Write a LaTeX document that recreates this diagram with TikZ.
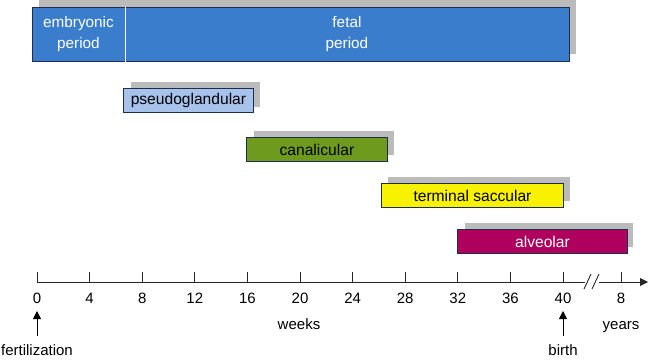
\documentclass[tikz,border=0pt]{standalone}
\usepackage{fontspec}
\setmainfont{Liberation Sans}
\usetikzlibrary{arrows.meta}
\definecolor{topblue}{HTML}{3A7DCC}
\definecolor{edgec}{HTML}{1E2E4A}
\definecolor{shadec}{HTML}{BBBBBB}
\definecolor{pglc}{HTML}{A7C3EC}
\definecolor{canc}{HTML}{6E9A1E}
\definecolor{tscc}{HTML}{F8F200}
\definecolor{alvc}{HTML}{B0005E}
\begin{document}
\begin{tikzpicture}[x=1pt,y=-1pt,
  font=\fontsize{15}{17}\selectfont,
  shadowbox/.style={fill=shadec,draw=none},
  phasebox/.style={draw=edgec,line width=0.9pt,inner sep=0pt,anchor=north west,font=\fontsize{15.6}{17}\selectfont},
  ticklab/.style={anchor=base,inner sep=0pt},
  axisline/.style={line width=0.9pt,black!85},
  arr/.style={line width=0.9pt,-{Triangle[length=8pt,width=8pt]}}]
\useasboundingbox (0,0) rectangle (650,359);

% top period bar
\fill[shadowbox] (39,0) rectangle (576,54);
\node[phasebox,draw=none,fill=topblue,minimum width=92pt,minimum height=54pt,text=white,align=center,font=\fontsize{15.3}{21}\selectfont] (emb) at (32,7) {embryonic\\period};
\node[phasebox,draw=none,fill=topblue,minimum width=445pt,minimum height=54pt,text=white,align=center,font=\fontsize{15.3}{21}\selectfont] (fet) at (124,7) {fetal\\period};
\draw[edgec,line width=0.9pt] (emb.north west) rectangle (fet.south east);
\draw[white,line width=0.8pt] (emb.north east) -- (emb.south east);

% phases
\fill[shadowbox] (131,82) rectangle (260,107);
\node[phasebox,fill=pglc,minimum width=130pt,minimum height=24pt] (pgl) at (123,88) {pseudoglandular};
\fill[shadowbox] (254,131) rectangle (394,155);
\node[phasebox,fill=canc,minimum width=141pt,minimum height=24pt] (can) at (246,137) {canalicular};
\fill[shadowbox] (388,177) rectangle (570,201);
\node[phasebox,fill=tscc,minimum width=182pt,minimum height=24pt] (tsc) at (381,183) {terminal saccular};
\fill[shadowbox] (465,223) rectangle (633,247);
\node[phasebox,fill=alvc,minimum width=170pt,minimum height=24pt,text=white] (alv) at (457,229) {alveolar};

% axis
\coordinate (a0) at (37,282);
\coordinate (brk1) at (585,282);
\coordinate (brk2) at (599,282);
\coordinate (aend) at (648,282);
\draw[axisline] (a0) -- (brk1);
\draw[axisline,-{Triangle[length=8pt,width=8pt]}] (brk2) -- (aend);
\draw[axisline] (584,289) -- (591,274);
\draw[axisline] (592,289) -- (599,274);
\foreach \w in {0,4,...,40} {
  \draw[axisline] (37+\w*13.15,282) -- (37+\w*13.15,272);
  \node[ticklab] (t\w) at (37+\w*13.15,303) {\w};
}
\draw[axisline] (621,282) -- (621,272);
\node[ticklab] (ty8) at (621,303) {8};

\node[ticklab] (weeks) at (299,329) {weeks};
\node[ticklab] (years) at (621,329) {years};
\node[ticklab] (fert) at (37,355) {fertilization};
\node[ticklab] (birth) at (563,355) {birth};

\coordinate (fertTip) at (37,311);
\coordinate (birthTip) at (563,311);
\draw[arr] (37,336) -- (fertTip);
\draw[arr] (563,336) -- (birthTip);
\end{tikzpicture}
\end{document}
